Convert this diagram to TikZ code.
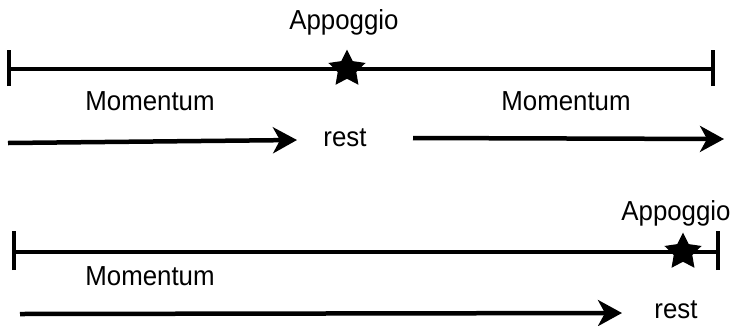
\documentclass[tikz,border=0pt]{standalone}
\usepackage{fontspec}
\setmainfont{Liberation Sans}[FakeStretch=0.94]
\usetikzlibrary{arrows.meta,shapes.geometric}
\begin{document}
\begin{tikzpicture}[x=1pt,y=-1pt,
  bar/.style={line width=4.5pt},
  tickmark/.style={line width=4pt},
  arr/.style={line width=4.5pt,-{Stealth[length=24pt,width=26pt,inset=7pt]}},
  lbl/.style={font=\fontsize{27.5}{32}\selectfont,inner sep=0pt,anchor=base},
  starmark/.style={star,star points=5,star point ratio=2.0,fill=black,inner sep=0pt,minimum size=39pt}]
\useasboundingbox (0,0) rectangle (736,325);
% top timeline
\coordinate (t1) at (9,69);
\coordinate (t2) at (713,69);
\draw[bar] (t1) -- (t2);
\draw[tickmark] ([yshift=-17pt]t1) -- ([yshift=19pt]t1);
\draw[tickmark] ([yshift=-17pt]t2) -- ([yshift=19pt]t2);
\node[starmark] (s1) at (347,69) {};
\node[lbl] (ap1) at (344,29) {Appoggio};
\node[lbl] (m1) at (150,110.5) {Momentum};
\node[lbl] (m2) at (566,110.5) {Momentum};
\node[lbl] (r1) at (345,146) {rest};
\coordinate (a1s) at (8,143);
\coordinate (a1e) at (297,140);
\coordinate (a2s) at (413,138);
\coordinate (a2e) at (724,139);
\draw[arr] (a1s) -- (a1e);
\draw[arr] (a2s) -- (a2e);
% bottom timeline
\coordinate (b1) at (14,252);
\coordinate (b2) at (718,252);
\draw[bar] (b1) -- (b2);
\draw[tickmark] ([yshift=-18pt]b1) -- ([yshift=21pt]b1);
\draw[tickmark] ([yshift=-18pt]b2) -- ([yshift=21pt]b2);
\node[starmark] (s2) at (683,252) {};
\node[lbl] (ap2) at (676,220) {Appoggio};
\node[lbl] (m3) at (150,285) {Momentum};
\node[lbl] (r2) at (676,318) {rest};
\coordinate (a3s) at (20,314);
\coordinate (a3e) at (622,313);
\draw[arr] (a3s) -- (a3e);
\end{tikzpicture}
\end{document}
